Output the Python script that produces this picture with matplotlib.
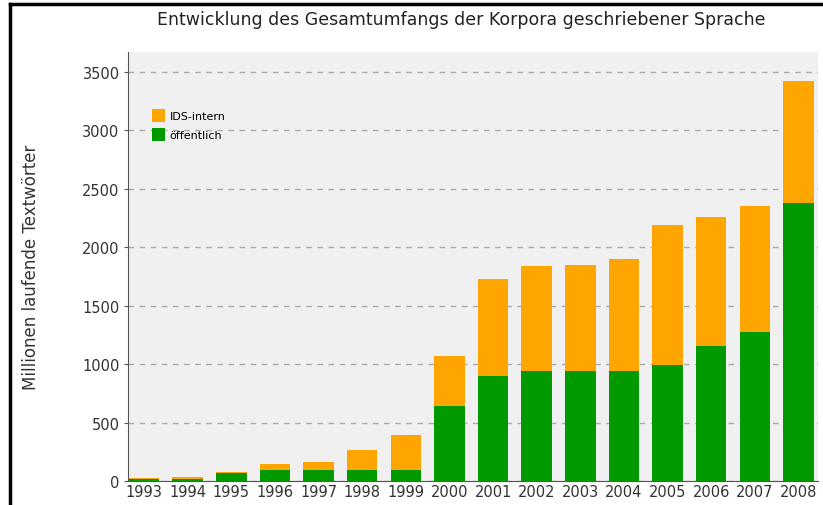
import numpy as np
import matplotlib
matplotlib.use("Agg")
import matplotlib.pyplot as plt
from matplotlib.lines import Line2D

years = [str(y) for y in range(1993, 2009)]
oeffentlich = [15, 20, 70, 100, 100, 100, 100, 646, 902, 945, 945, 945, 993, 1158, 1277, 2380]
gesamt = [25, 32, 78, 149, 163, 263, 399, 1072, 1726, 1840, 1848, 1897, 2195, 2258, 2357, 3426]
ids_intern = [g - o for g, o in zip(gesamt, oeffentlich)]

yticks = [0, 500, 1000, 1500, 2000, 2500, 3000, 3500]


def main():
    plt.rcParams["font.family"] = "DejaVu Sans"
    fig = plt.figure(figsize=(8.23, 5.06), dpi=100)
    ax = fig.add_axes([0.1555, 0.047, 0.838, 0.848])
    ax.set_facecolor("#f0f0f0")

    x = np.arange(len(years))
    ax.bar(x, oeffentlich, width=0.7, color="#009900", label="öffentlich", zorder=3)
    ax.bar(x, ids_intern, width=0.7, bottom=oeffentlich, color="#ffa500", label="IDS-intern", zorder=3)

    ax.set_xlim(-0.37, 15.44)
    ax.set_ylim(0, 3670)
    ax.set_xticks(x)
    ax.set_xticklabels(years, fontsize=10.5, color="#333333")
    ax.tick_params(axis="x", length=0, pad=2)
    ax.set_yticks(yticks)
    ax.set_yticklabels([str(v) for v in yticks], fontsize=10.5, color="#333333")
    ax.tick_params(axis="y", length=3, color="#555555", pad=3)
    ax.yaxis.grid(True, linestyle=(0, (4, 4)), color="#aaaaaa", linewidth=1, zorder=1)
    for s in ["top", "right"]:
        ax.spines[s].set_visible(False)
    for s in ["left", "bottom"]:
        ax.spines[s].set_color("#555555")

    ax.set_ylabel("Millionen laufende Textwörter", fontsize=12, color="#333333", labelpad=30)
    fig.text(0.56, 0.96, "Entwicklung des Gesamtumfangs der Korpora geschriebener Sprache",
             ha="center", va="center", fontsize=12.5, color="#222222")

    handles, labels = ax.get_legend_handles_labels()
    ax.legend(handles[::-1], labels[::-1], loc="upper left", bbox_to_anchor=(0.02, 0.89),
              frameon=False, fontsize=8, handlelength=1.2, handleheight=1.4,
              handletextpad=0.4, labelspacing=0.5)

    # black frame at the left and top edge of the screenshot
    fig.add_artist(Line2D([0.012, 0.012], [0, 0.99], transform=fig.transFigure, color="black", linewidth=2.5))
    fig.add_artist(Line2D([0.012, 1.0], [0.99, 0.99], transform=fig.transFigure, color="black", linewidth=2.5))

    fig.savefig("out.png", dpi=100)


if __name__ == "__main__":
    main()
